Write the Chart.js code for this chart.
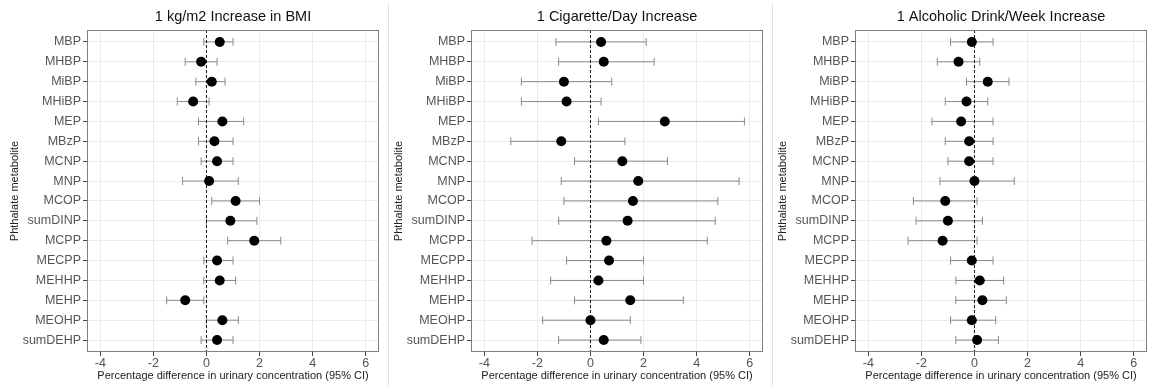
<!DOCTYPE html>
<html>
<head>
<meta charset="utf-8">
<script src="https://cdn.jsdelivr.net/npm/chart.js@4.4.0/dist/chart.umd.min.js"></script>
<style>
  body { margin: 0; background: #fff; }
  #wrap { position: relative; width: 1152px; height: 391px; }
  canvas { position: absolute; top: 0; }
  .sep { position: absolute; top: 4px; width: 1px; height: 382px; background: #e2e2e2; z-index: 2; }
</style>
</head>
<body>
<div id="wrap">
  <canvas id="c1" width="384" height="391" style="left:0"></canvas>
  <canvas id="c2" width="384" height="391" style="left:384px"></canvas>
  <canvas id="c3" width="384" height="391" style="left:768px"></canvas>
  <div class="sep" style="left:388px"></div>
  <div class="sep" style="left:772px"></div>
</div>
<script>
// categories (top to bottom)
const metabolites = ['MBP', 'MHBP', 'MiBP', 'MHiBP', 'MEP', 'MBzP', 'MCNP', 'MNP',
  'MCOP', 'sumDINP', 'MCPP', 'MECPP', 'MEHHP', 'MEHP', 'MEOHP', 'sumDEHP'];

const panelTitles = ['1 kg/m2 Increase in BMI', '1 Cigarette/Day Increase', '1 Alcoholic Drink/Week Increase'];

// BMI
const bmiEst  = [0.5, -0.2, 0.2, -0.5, 0.6, 0.3, 0.4, 0.1, 1.1, 0.9, 1.8, 0.4, 0.5, -0.8, 0.6, 0.4];
const bmiLow  = [-0.1, -0.8, -0.4, -1.1, -0.3, -0.3, -0.2, -0.9, 0.2, 0.0, 0.8, -0.1, -0.1, -1.5, 0.0, -0.2];
const bmiHigh = [1.0, 0.4, 0.7, 0.1, 1.4, 1.0, 1.0, 1.2, 2.0, 1.9, 2.8, 1.0, 1.1, -0.1, 1.2, 1.0];

// cigarettes
const cigEst  = [0.4, 0.5, -1.0, -0.9, 2.8, -1.1, 1.2, 1.8, 1.6, 1.4, 0.6, 0.7, 0.3, 1.5, 0.0, 0.5];
const cigLow  = [-1.3, -1.2, -2.6, -2.6, 0.3, -3.0, -0.6, -1.1, -1.0, -1.2, -2.2, -0.9, -1.5, -0.6, -1.8, -1.2];
const cigHigh = [2.1, 2.4, 0.8, 0.4, 5.8, 1.3, 2.9, 5.6, 4.8, 4.7, 4.4, 2.0, 2.0, 3.5, 1.5, 1.9];

// alcohol
const alcEst  = [-0.1, -0.6, 0.5, -0.3, -0.5, -0.2, -0.2, 0.0, -1.1, -1.0, -1.2, -0.1, 0.2, 0.3, -0.1, 0.1];
const alcLow  = [-0.9, -1.4, -0.3, -1.1, -1.6, -1.1, -1.0, -1.3, -2.3, -2.2, -2.5, -0.9, -0.7, -0.7, -0.9, -0.7];
const alcHigh = [0.7, 0.2, 1.3, 0.5, 0.7, 0.7, 0.7, 1.5, 0.1, 0.3, 0.1, 0.7, 1.1, 1.2, 0.8, 0.9];

const xTicks = [-4, -2, 0, 2, 4, 6];

Chart.defaults.font.family = "'Liberation Sans', Arial, sans-serif";

// draws the panel box round the plot area
const frame = {
  id: 'frame',
  afterDatasetsDraw(chart) {
    const { ctx, chartArea: a } = chart;
    ctx.save();
    ctx.strokeStyle = '#808080';
    ctx.lineWidth = 1;
    ctx.strokeRect(Math.round(a.left) + 0.5, Math.round(a.top) + 0.5,
      Math.round(a.right - a.left) - 1, Math.round(a.bottom - a.top) - 1);
    ctx.restore();
  }
};

function makeDatasets(est, lo, hi) {
  const bars = metabolites.map((m, i) => ({
    data: [{ x: lo[i], y: i + 1 }, { x: hi[i], y: i + 1 }],
    showLine: true,
    borderColor: '#8a8a8a',
    borderWidth: 1,
    pointStyle: 'line',
    pointRotation: 90,
    pointRadius: 4,
    pointBorderColor: '#8a8a8a',
    pointBorderWidth: 1,
    order: 2
  }));
  const zero = {
    data: [{ x: 0, y: 0.4 }, { x: 0, y: 16.6 }],
    showLine: true,
    borderColor: '#111',
    borderWidth: 1,
    borderDash: [3, 2],
    pointRadius: 0,
    order: 1
  };
  const pts = {
    data: est.map((v, i) => ({ x: v, y: i + 1 })),
    pointRadius: 5,
    pointBackgroundColor: '#000',
    pointBorderColor: '#000',
    pointBorderWidth: 0,
    order: 0
  };
  return [...bars, zero, pts];
}

function makePanel(id, title, est, lo, hi) {
  new Chart(document.getElementById(id), {
    type: 'scatter',
    data: { datasets: makeDatasets(est, lo, hi) },
    plugins: [frame],
    options: {
      responsive: false,
      animation: false,
      devicePixelRatio: 1,
      events: [],
      layout: { padding: { left: 0, right: 2, top: 0, bottom: 0 } },
      plugins: {
        legend: { display: false },
        tooltip: { enabled: false },
        title: {
          display: true,
          text: title,
          fullSize: false,
          color: '#111',
          font: { size: 14.5, weight: 'normal' },
          padding: { top: 8.6, bottom: 4 }
        }
      },
      scales: {
        x: {
          type: 'linear',
          min: -4.5,
          max: 6.5,
          afterBuildTicks: s => { s.ticks = xTicks.map(v => ({ value: v })); },
          afterFit: s => { s.height = 39; },
          ticks: { color: '#555', font: { size: 12.5 }, padding: 0, maxRotation: 0, callback: v => String(v) },
          grid: { color: '#ebebeb', tickColor: '#444', tickLength: 4 },
          border: { display: false },
          title: {
            display: true,
            text: 'Percentage difference in urinary concentration (95% CI)',
            color: '#222',
            font: { size: 11 },
            padding: { top: 0, bottom: 8 }
          }
        },
        y: {
          type: 'linear',
          reverse: true,
          min: 0.4,
          max: 16.6,
          afterBuildTicks: s => { s.ticks = metabolites.map((m, i) => ({ value: i + 1 })); },
          afterFit: s => { s.width = 87; },
          ticks: { color: '#555', font: { size: 12.5 }, padding: 2, autoSkip: false, callback: v => metabolites[v - 1] },
          grid: { color: '#ebebeb', tickColor: '#444', tickLength: 4 },
          border: { display: false },
          title: {
            display: true,
            text: 'Phthalate metabolite',
            color: '#222',
            font: { size: 11 },
            padding: { top: 8.4, bottom: 0 }
          }
        }
      }
    }
  });
}

makePanel('c1', panelTitles[0], bmiEst, bmiLow, bmiHigh);
makePanel('c2', panelTitles[1], cigEst, cigLow, cigHigh);
makePanel('c3', panelTitles[2], alcEst, alcLow, alcHigh);
</script>
</body>
</html>
